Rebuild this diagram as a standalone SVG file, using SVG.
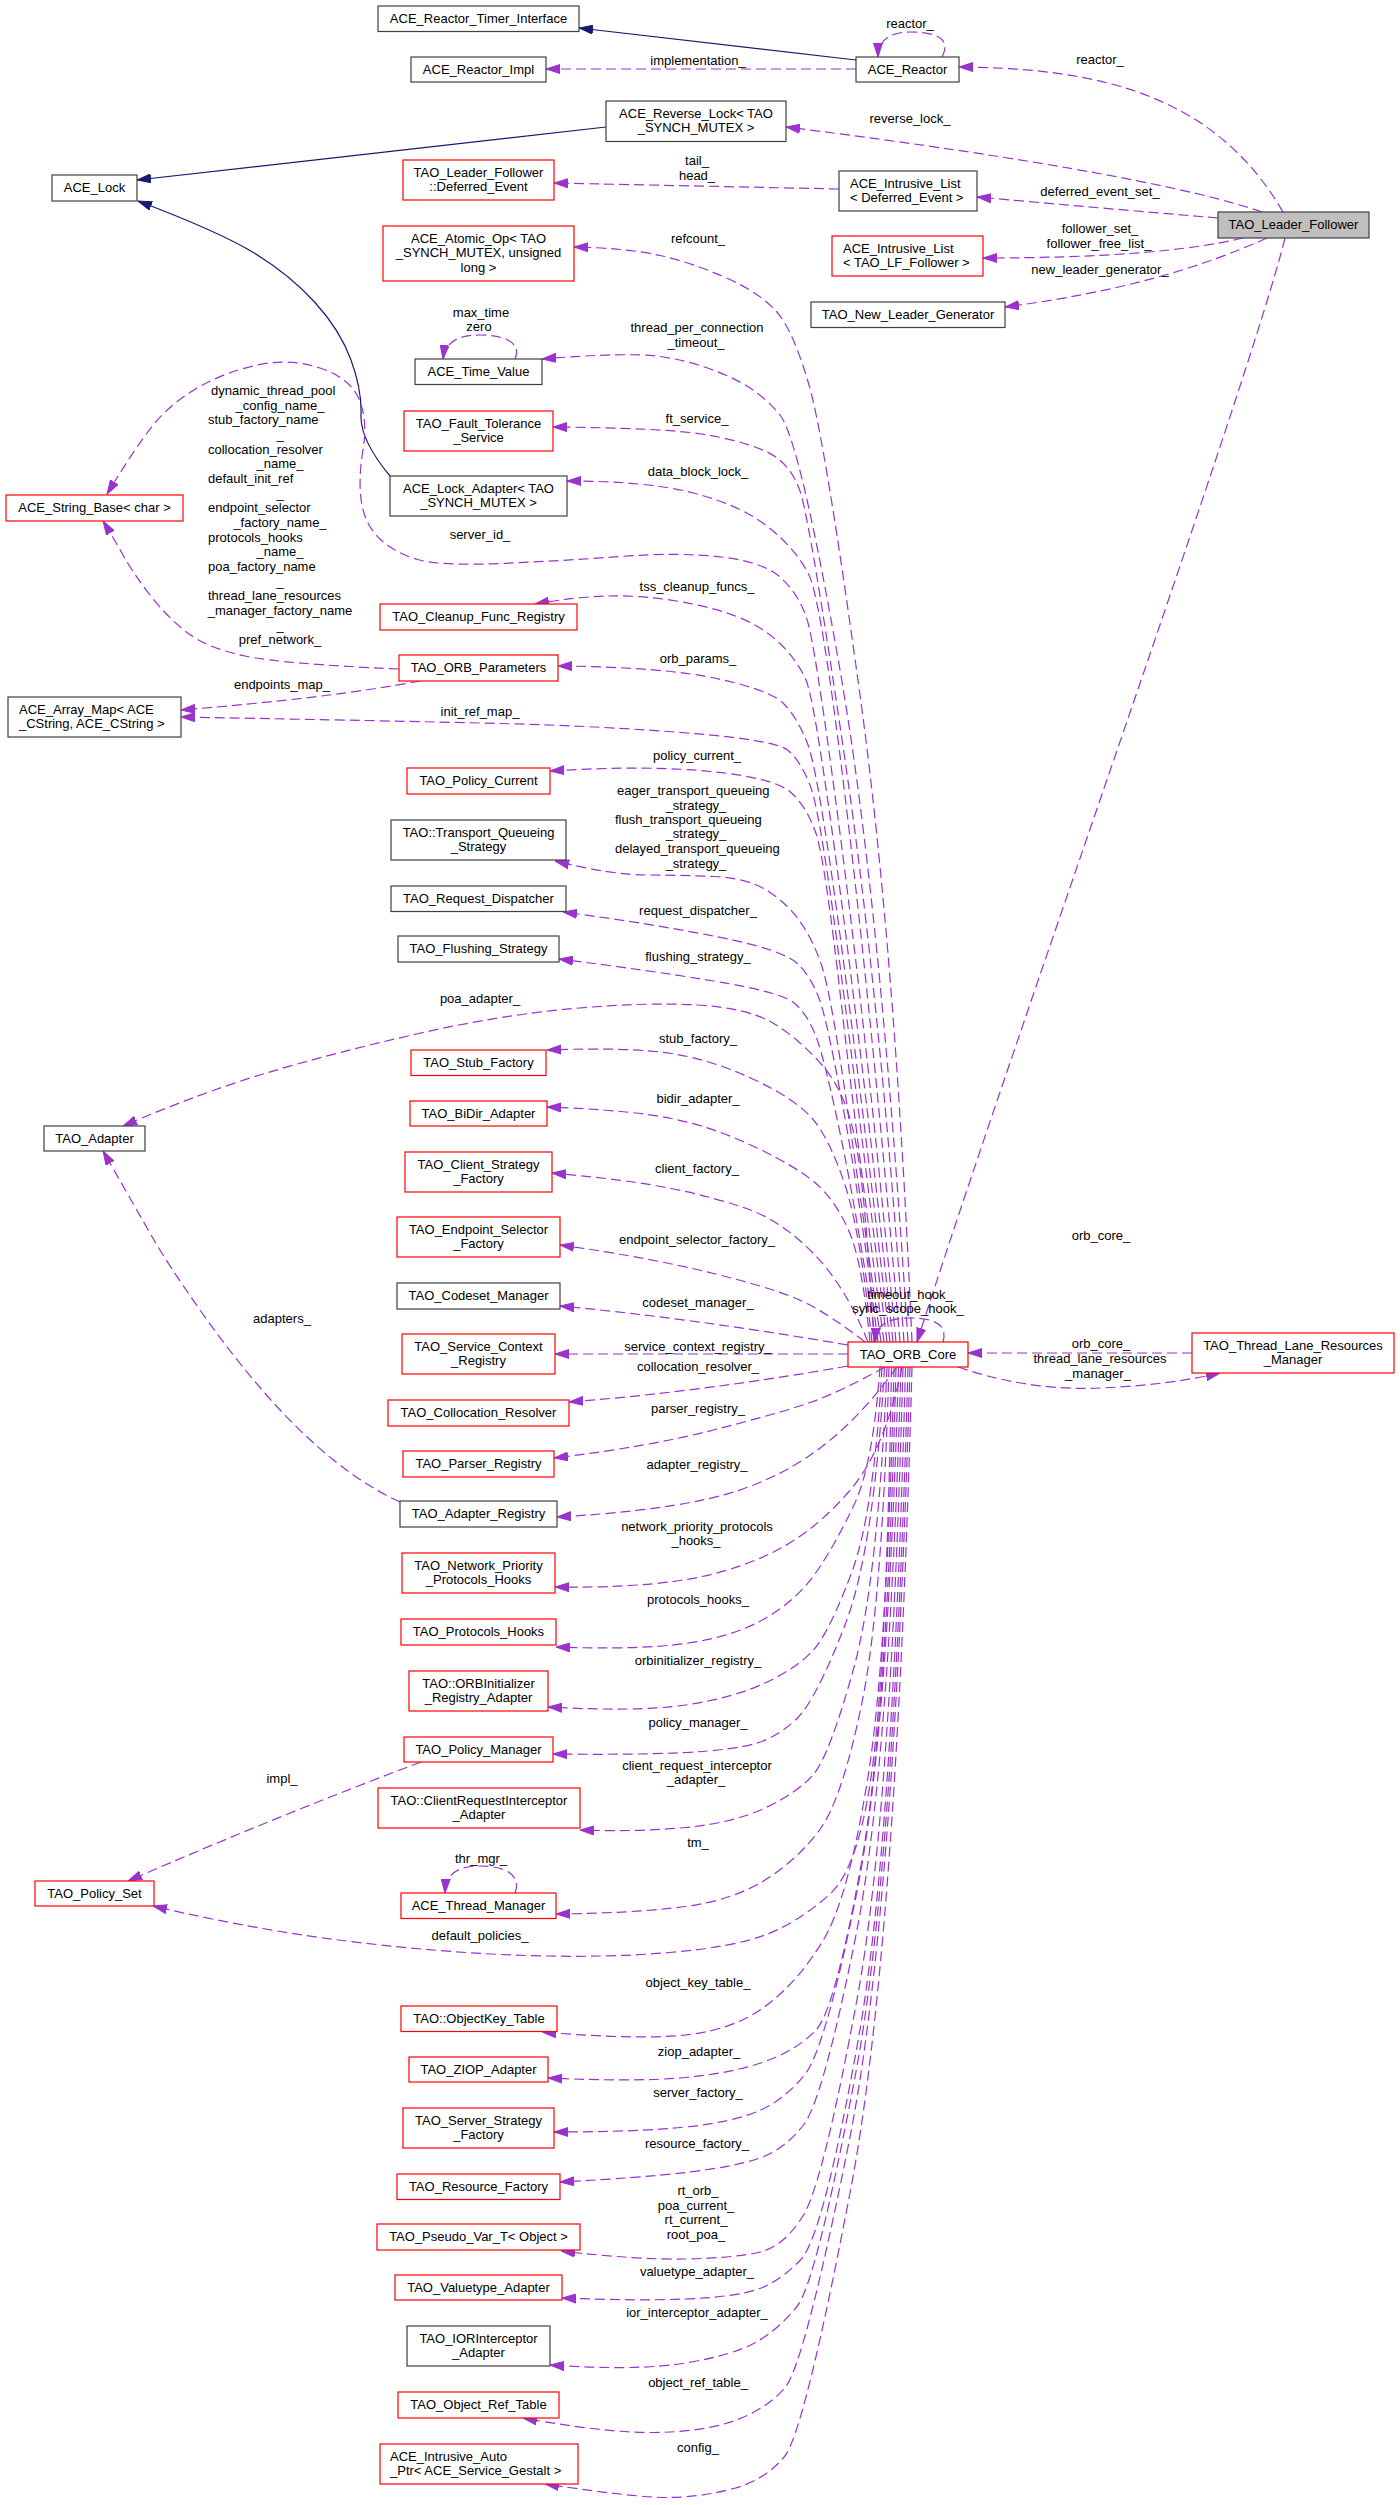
<svg xmlns="http://www.w3.org/2000/svg" width="1400" height="2505" viewBox="0 0 1400 2505">
<style>
text{font-family:"Liberation Sans",Arial,Helvetica,sans-serif;font-size:13px;fill:#000}
.n rect{stroke-width:1.2}
.r{fill:#fff;stroke:#ff0000}
.b{fill:#fff;stroke:#404040}
.g{fill:#bfbfbf;stroke:#404040}
.c{text-anchor:middle}
.e{fill:none;stroke:#9a32cd;stroke-width:1.2;stroke-dasharray:10,5;marker-end:url(#ap)}
.i{fill:none;stroke:#191970;stroke-width:1.2;marker-end:url(#an)}
</style>
<defs>
<marker id="ap" viewBox="0 0 14 10" refX="14" refY="5" markerWidth="14" markerHeight="10" markerUnits="userSpaceOnUse" orient="auto"><path d="M0,0.5 L14,5 L0,9.5 z" fill="#9a32cd" stroke="#9a32cd" stroke-width="1"/></marker>
<marker id="an" viewBox="0 0 14 10" refX="14" refY="5" markerWidth="14" markerHeight="10" markerUnits="userSpaceOnUse" orient="auto"><path d="M0,0.5 L14,5 L0,9.5 z" fill="#191970" stroke="#191970" stroke-width="1"/></marker>
</defs>
<rect x="0" y="0" width="1400" height="2505" fill="#fff"/>
<g id="edges">
<path class="i" d="M856,60 L579,28"/>
<path class="i" d="M606,127 L137,180"/>
<path class="i" d="M390,476 Q360,440 361,415 Q362,390 351,360 Q340,330 315,302.5 Q290,275 255,253.5 Q220,232 138,201"/>
<path class="e" d="M856,69 L546,69"/>
<path class="e" d="M942,57 C952,38 935,32 910,32 C890,32 878,40 878,57"/>
<path class="e" d="M1283,212 C1215,95 1100,68 959,67"/>
<path class="e" d="M1262,212 C1200,190 1050,160 786,127"/>
<path class="e" d="M839,189 L554,183"/>
<path class="e" d="M1218,218 Q1100,208 977,197"/>
<path class="e" d="M1243,238 Q1160,258 983,258"/>
<path class="e" d="M1267,238 C1200,268 1120,292 1005,307"/>
<path class="e" d="M1285,238 C1250,380 1010,1050 917,1342"/>
<path class="e" d="M515,359 C522,343 505,335 480,335 C458,335 445,342 443,359"/>
<path class="e" d="M908,1342 Q880,900 840,670 Q800,440 780,415 Q760,390 726.5,375.5 Q693,361 660,356.5 Q627,352 542,359"/>
<path class="e" d="M912,1342 Q895,950 860,695 Q825,440 809,385 Q793,330 776.5,311.5 Q760,293 726.5,278 Q693,263 660,255.5 Q627,248 574,247"/>
<path class="e" d="M904,1342 Q880,1000 845,760 Q810,520 800,491 Q790,462 765,451 Q740,440 701.5,434 Q663,428 553,427"/>
<path class="e" d="M900,1342 Q875,1050 848.5,825 Q822,600 808.5,574 Q795,548 767.5,526.5 Q740,505 693.5,493 Q647,481 567,481"/>
<path class="e" d="M896,1342 Q868,1050 841.5,845 Q815,640 806,616 Q797,592 780,577 Q763,562 721.5,557 Q680,552 620,556.5 Q560,561 500,563.5 Q440,566 417.5,559.5 Q395,553 380,539 Q365,525 361.5,502.5 Q358,480 363,450 Q368,420 359,399 Q350,378 320,368 Q290,358 257.5,365 Q225,372 199,387 Q173,402 156.5,421 Q140,440 107,494"/>
<path class="e" d="M893,1342 Q865,1080 840,890 Q815,700 806,680 Q797,660 780,643.5 Q763,627 738,617 Q713,607 676.5,601 Q640,595 607.5,596 Q575,597 535,604"/>
<path class="e" d="M890,1342 Q862,1100 840,935 Q818,770 807.5,743.5 Q797,717 783.5,703.5 Q770,690 716.5,678.5 Q663,667 558,666"/>
<path class="e" d="M887,1342 Q860,1120 840,965 Q820,810 810,785 Q800,760 787.5,750 Q775,740 687.5,733 Q600,726 500,723.5 Q400,721 181,717"/>
<path class="e" d="M884,1342 Q858,1150 841.5,1005 Q825,860 816,833.5 Q807,807 791,792.5 Q775,778 711,771.5 Q647,765 550,771"/>
<path class="e" d="M881,1342 Q858,1180 844,1085 Q830,990 821.5,965 Q813,940 800,921.5 Q787,903 767,890.5 Q747,878 713.5,876.5 Q680,875 646.5,875 Q613,875 555,861"/>
<path class="e" d="M878,1342 Q860,1200 844,1112.5 Q828,1025 820.5,1002.5 Q813,980 799,965 Q785,950 716,936.5 Q647,923 563,912"/>
<path class="e" d="M876,1342 Q858,1220 841.5,1140 Q825,1060 816,1036.5 Q807,1013 793.5,1002.5 Q780,992 713.5,981 Q647,970 559,959"/>
<path class="e" d="M874,1342 Q866,1200 856.5,1146.5 Q847,1093 822,1065 Q797,1037 772,1022.5 Q747,1008 697,1005 Q647,1002 573.5,1008.5 Q500,1015 416.5,1034 Q333,1053 266.5,1073 Q200,1093 123,1126"/>
<path class="e" d="M872,1342 Q860,1230 845,1185 Q830,1140 813.5,1120 Q797,1100 755,1080 Q713,1060 671.5,1053.5 Q630,1047 547,1050"/>
<path class="e" d="M870,1342 Q862,1260 848.5,1230 Q835,1200 816,1183.5 Q797,1167 755,1147 Q713,1127 671.5,1118.5 Q630,1110 547,1107"/>
<path class="e" d="M868,1342 Q845,1285 812.5,1252.5 Q780,1220 746.5,1208.5 Q713,1197 671.5,1188.5 Q630,1180 552,1173"/>
<path class="e" d="M865,1342 Q830,1315 805,1302.5 Q780,1290 713.5,1273.5 Q647,1257 560,1245"/>
<path class="e" d="M848,1345 Q690,1318 560,1306"/>
<path class="e" d="M848,1354 L555,1354"/>
<path class="e" d="M848,1366 Q700,1392 569,1402"/>
<path class="e" d="M885,1367 Q840,1392 810,1402.5 Q780,1413 713.5,1430 Q647,1447 554,1458"/>
<path class="e" d="M897,1367 Q855,1425 809,1456 Q763,1487 705,1499.5 Q647,1512 557,1517"/>
<path class="e" d="M902,1367 Q885,1450 849,1491.5 Q813,1533 771.5,1553 Q730,1573 680,1580.5 Q630,1588 555,1587"/>
<path class="e" d="M880,1367 Q873,1465 854,1505 Q835,1545 816,1572.5 Q797,1600 765,1618.5 Q733,1637 685.5,1643.5 Q638,1650 556,1647"/>
<path class="e" d="M882,1367 Q874,1513 851.5,1573 Q829,1633 813,1650.5 Q797,1668 765,1683 Q733,1698 685.5,1705 Q638,1712 548,1707"/>
<path class="e" d="M884.5,1367 Q874,1550 845,1625 Q816,1700 797,1718.5 Q778,1737 755.5,1743.5 Q733,1750 685.5,1752.5 Q638,1755 553,1754"/>
<path class="e" d="M887,1367 Q878,1581 853.5,1669 Q829,1757 813,1775 Q797,1793 765,1808 Q733,1823 685.5,1827.5 Q638,1832 580,1830"/>
<path class="e" d="M889,1367 Q882,1605 862,1702.5 Q842,1800 819.5,1830 Q797,1860 765,1880 Q733,1900 685.5,1906.5 Q638,1913 556,1914"/>
<path class="e" d="M891.5,1367 Q887,1642 874,1754.5 Q861,1867 829,1895 Q797,1923 765,1935 Q733,1947 669.5,1952.5 Q606,1958 526,1955.5 Q446,1953 350.5,1941.5 Q255,1930 153,1906"/>
<path class="e" d="M894,1367 Q887,1660 867.5,1780 Q848,1900 822.5,1941.5 Q797,1983 765,2006.5 Q733,2030 685.5,2035 Q638,2040 542,2032"/>
<path class="e" d="M896,1367 Q887,1721 861,1865.5 Q835,2010 816,2030 Q797,2050 765,2061.5 Q733,2073 685.5,2077.5 Q638,2082 548,2078"/>
<path class="e" d="M898.5,1367 Q887.5,1743 856,1896.5 Q825,2050 804.5,2075 Q784,2100 758.5,2111 Q733,2122 685.5,2127 Q638,2132 554,2132"/>
<path class="e" d="M901,1367 Q889,1770 856,1935 Q823,2100 803.5,2125 Q784,2150 758.5,2158.5 Q733,2167 685.5,2172.5 Q638,2178 560,2182"/>
<path class="e" d="M903,1367 Q891,1816 857,1999.5 Q823,2183 803.5,2215 Q784,2247 758.5,2252.5 Q733,2258 685.5,2259 Q638,2260 561,2251"/>
<path class="e" d="M905.5,1367 Q893,1845.5 858,2041 Q823,2237 800.5,2260 Q778,2283 755.5,2290 Q733,2297 685.5,2299 Q638,2301 562,2298"/>
<path class="e" d="M908,1367 Q894,1871 855,2077 Q816,2283 797,2306.5 Q778,2330 755.5,2342.5 Q733,2355 685.5,2363 Q638,2371 550,2365"/>
<path class="e" d="M910,1367 Q894,1917 849,2142 Q804,2367 784.5,2388.5 Q765,2410 733.5,2421 Q702,2432 654,2432.5 Q606,2433 523,2418"/>
<path class="e" d="M912,1367 Q896,1953 850,2193 Q804,2433 784.5,2456.5 Q765,2480 733.5,2488.5 Q702,2497 670,2497.5 Q638,2498 545,2484"/>
<path class="e" d="M399,669 Q283,664 245,656 Q207,648 187,632.5 Q167,617 150,595 Q133,573 123,555 Q113,537 103,521"/>
<path class="e" d="M420,681 Q330,698 181,710"/>
<path class="e" d="M400,1502 Q367,1487 333.5,1460 Q300,1433 266.5,1395 Q233,1357 200,1310 Q167,1263 152.5,1237.5 Q138,1212 103,1151"/>
<path class="e" d="M421,1762 Q280,1815 128,1881"/>
<path class="e" d="M515,1893 C522,1875 505,1866 480,1866 C460,1866 446,1872 445,1893"/>
<path class="e" d="M943,1342 C948,1325 935,1318 910,1318 C888,1318 876,1324 875,1342"/>
<path class="e" d="M1192,1353 L968,1353"/>
<path class="e" d="M958,1367 C1010,1385 1060,1390 1100,1388 C1150,1386 1190,1380 1220,1373"/>
</g>
<g id="edge-labels">
<text class="c" x="698" y="65">implementation_</text>
<text class="c" x="910" y="28">reactor_</text>
<text class="c" x="1100" y="64">reactor_</text>
<text class="c" x="910" y="123">reverse_lock_</text>
<text class="c" x="697" y="165">tail_</text>
<text class="c" x="697" y="180">head_</text>
<text class="c" x="1100" y="196">deferred_event_set_</text>
<text class="c" x="1100" y="232.5">follower_set_</text>
<text class="c" x="1099" y="247.5">follower_free_list_</text>
<text class="c" x="1100" y="274">new_leader_generator_</text>
<text class="c" x="698" y="243">refcount_</text>
<text class="c" x="481" y="317">max_time</text>
<text class="c" x="479" y="331">zero</text>
<text class="c" x="697" y="332">thread_per_connection</text>
<text class="c" x="696" y="347">_timeout_</text>
<text x="211" y="395">dynamic_thread_pool</text>
<text class="c" x="280" y="409.7">_config_name_</text>
<text x="208" y="424.3">stub_factory_name</text>
<text class="c" x="280" y="439">_</text>
<text x="208" y="453.7">collocation_resolver</text>
<text class="c" x="280" y="468.3">_name_</text>
<text x="208" y="483">default_init_ref</text>
<text class="c" x="280" y="497.7">_</text>
<text x="208" y="512.3">endpoint_selector</text>
<text class="c" x="280" y="527">_factory_name_</text>
<text x="208" y="541.7">protocols_hooks</text>
<text class="c" x="280" y="556.3">_name_</text>
<text x="208" y="571">poa_factory_name</text>
<text class="c" x="280" y="585.7">_</text>
<text x="208" y="600.3">thread_lane_resources</text>
<text class="c" x="280" y="615">_manager_factory_name</text>
<text class="c" x="280" y="629.7">_</text>
<text class="c" x="280" y="644.3">pref_network_</text>
<text class="c" x="697" y="423">ft_service_</text>
<text class="c" x="698" y="476">data_block_lock_</text>
<text class="c" x="480" y="539">server_id_</text>
<text class="c" x="697" y="591">tss_cleanup_funcs_</text>
<text class="c" x="698" y="663">orb_params_</text>
<text class="c" x="282" y="689">endpoints_map_</text>
<text class="c" x="480" y="716">init_ref_map_</text>
<text class="c" x="697" y="760">policy_current_</text>
<text x="617" y="795">eager_transport_queueing</text>
<text class="c" x="696" y="809.5">_strategy_</text>
<text x="615" y="823.5">flush_transport_queueing</text>
<text class="c" x="696" y="838">_strategy_</text>
<text x="615" y="853">delayed_transport_queueing</text>
<text class="c" x="696" y="867.5">_strategy_</text>
<text class="c" x="698" y="915">request_dispatcher_</text>
<text class="c" x="698" y="961">flushing_strategy_</text>
<text class="c" x="480" y="1003">poa_adapter_</text>
<text class="c" x="698" y="1043">stub_factory_</text>
<text class="c" x="698" y="1103">bidir_adapter_</text>
<text class="c" x="697" y="1173">client_factory_</text>
<text class="c" x="697" y="1244">endpoint_selector_factory_</text>
<text class="c" x="1101" y="1240">orb_core_</text>
<text class="c" x="910" y="1299">timeout_hook_</text>
<text class="c" x="908" y="1313">sync_scope_hook_</text>
<text class="c" x="698" y="1307">codeset_manager_</text>
<text class="c" x="282" y="1323">adapters_</text>
<text class="c" x="1101" y="1348">orb_core_</text>
<text class="c" x="1100" y="1363">thread_lane_resources</text>
<text class="c" x="1098" y="1378">_manager_</text>
<text class="c" x="698" y="1351">service_context_registry_</text>
<text class="c" x="698" y="1371">collocation_resolver_</text>
<text class="c" x="698" y="1413">parser_registry_</text>
<text class="c" x="697" y="1469">adapter_registry_</text>
<text class="c" x="697" y="1531">network_priority_protocols</text>
<text class="c" x="696" y="1545">_hooks_</text>
<text class="c" x="698" y="1604">protocols_hooks_</text>
<text class="c" x="698" y="1665">orbinitializer_registry_</text>
<text class="c" x="698" y="1727">policy_manager_</text>
<text class="c" x="697" y="1770">client_request_interceptor</text>
<text class="c" x="696" y="1784">_adapter_</text>
<text class="c" x="282" y="1783">impl_</text>
<text class="c" x="698" y="1847">tm_</text>
<text class="c" x="481" y="1863">thr_mgr_</text>
<text class="c" x="480" y="1940">default_policies_</text>
<text class="c" x="698" y="1987">object_key_table_</text>
<text class="c" x="699" y="2056">ziop_adapter_</text>
<text class="c" x="698" y="2097">server_factory_</text>
<text class="c" x="697" y="2148">resource_factory_</text>
<text class="c" x="698" y="2195">rt_orb_</text>
<text class="c" x="696" y="2209.5">poa_current_</text>
<text class="c" x="696" y="2224">rt_current_</text>
<text class="c" x="696" y="2239">root_poa_</text>
<text class="c" x="697" y="2276">valuetype_adapter_</text>
<text class="c" x="697" y="2317">ior_interceptor_adapter_</text>
<text class="c" x="698" y="2387">object_ref_table_</text>
<text class="c" x="698" y="2452">config_</text>
</g>
<g id="n1" class="n"><rect class="b" x="378" y="6" width="201" height="25.5"/><text class="c" x="478.5" y="22.7">ACE_Reactor_Timer_Interface</text></g>
<g id="n2" class="n"><rect class="b" x="411" y="57" width="135" height="25"/><text class="c" x="478.5" y="73.7">ACE_Reactor_Impl</text></g>
<g id="n3" class="n"><rect class="b" x="856" y="57" width="103" height="25"/><text class="c" x="907.5" y="73.7">ACE_Reactor</text></g>
<g id="n4" class="n"><rect class="b" x="52" y="175" width="85" height="26"/><text class="c" x="94.5" y="191.7">ACE_Lock</text></g>
<g id="n5" class="n"><rect class="b" x="606" y="101" width="180" height="40.5"/><text class="c" x="696" y="117.7">ACE_Reverse_Lock&lt; TAO</text><text class="c" x="696" y="132.4">_SYNCH_MUTEX &gt;</text></g>
<g id="n6" class="n"><rect class="r" x="403" y="160" width="151" height="40"/><text class="c" x="478.5" y="176.7">TAO_Leader_Follower</text><text class="c" x="478.5" y="191.4">::Deferred_Event</text></g>
<g id="n7" class="n"><rect class="b" x="839" y="171" width="138" height="40"/><text x="850" y="187.7">ACE_Intrusive_List</text><text x="850" y="202.4">&lt; Deferred_Event &gt;</text></g>
<g id="n8" class="n"><rect class="g" x="1218" y="212" width="151" height="26"/><text class="c" x="1293.5" y="228.7">TAO_Leader_Follower</text></g>
<g id="n9" class="n"><rect class="r" x="383" y="226" width="191" height="55"/><text class="c" x="478.5" y="242.7">ACE_Atomic_Op&lt; TAO</text><text class="c" x="478.5" y="257.4">_SYNCH_MUTEX, unsigned</text><text class="c" x="478.5" y="272.1">long &gt;</text></g>
<g id="n10" class="n"><rect class="r" x="832" y="236" width="151" height="40"/><text x="843" y="252.7">ACE_Intrusive_List</text><text x="843" y="267.4">&lt; TAO_LF_Follower &gt;</text></g>
<g id="n11" class="n"><rect class="b" x="811" y="302" width="194" height="25.5"/><text class="c" x="908" y="318.7">TAO_New_Leader_Generator</text></g>
<g id="n12" class="n"><rect class="b" x="415" y="359" width="127" height="25.5"/><text class="c" x="478.5" y="375.7">ACE_Time_Value</text></g>
<g id="n13" class="n"><rect class="r" x="404" y="411" width="149" height="40"/><text class="c" x="478.5" y="427.7">TAO_Fault_Tolerance</text><text class="c" x="478.5" y="442.4">_Service</text></g>
<g id="n14" class="n"><rect class="b" x="390" y="476" width="177" height="40"/><text class="c" x="478.5" y="492.7">ACE_Lock_Adapter&lt; TAO</text><text class="c" x="478.5" y="507.4">_SYNCH_MUTEX &gt;</text></g>
<g id="n15" class="n"><rect class="r" x="6" y="495" width="177" height="26"/><text class="c" x="94.5" y="511.7">ACE_String_Base&lt; char &gt;</text></g>
<g id="n16" class="n"><rect class="r" x="380" y="604" width="197" height="26"/><text class="c" x="478.5" y="620.7">TAO_Cleanup_Func_Registry</text></g>
<g id="n17" class="n"><rect class="r" x="399" y="655" width="159" height="26"/><text class="c" x="478.5" y="671.7">TAO_ORB_Parameters</text></g>
<g id="n18" class="n"><rect class="b" x="8" y="697" width="173" height="40"/><text x="19" y="713.7">ACE_Array_Map&lt; ACE</text><text x="19" y="728.4">_CString, ACE_CString &gt;</text></g>
<g id="n19" class="n"><rect class="r" x="407" y="768" width="143" height="26"/><text class="c" x="478.5" y="784.7">TAO_Policy_Current</text></g>
<g id="n20" class="n"><rect class="b" x="391" y="820" width="175" height="40"/><text class="c" x="478.5" y="836.7">TAO::Transport_Queueing</text><text class="c" x="478.5" y="851.4">_Strategy</text></g>
<g id="n21" class="n"><rect class="b" x="391" y="886" width="175" height="25.5"/><text class="c" x="478.5" y="902.7">TAO_Request_Dispatcher</text></g>
<g id="n22" class="n"><rect class="b" x="398" y="936" width="161" height="26"/><text class="c" x="478.5" y="952.7">TAO_Flushing_Strategy</text></g>
<g id="n23" class="n"><rect class="r" x="411" y="1050" width="135" height="25.5"/><text class="c" x="478.5" y="1066.7">TAO_Stub_Factory</text></g>
<g id="n24" class="n"><rect class="r" x="410" y="1101" width="137" height="25"/><text class="c" x="478.5" y="1117.7">TAO_BiDir_Adapter</text></g>
<g id="n25" class="n"><rect class="b" x="44" y="1126" width="101" height="25"/><text class="c" x="94.5" y="1142.7">TAO_Adapter</text></g>
<g id="n26" class="n"><rect class="r" x="405" y="1152" width="147" height="40"/><text class="c" x="478.5" y="1168.7">TAO_Client_Strategy</text><text class="c" x="478.5" y="1183.4">_Factory</text></g>
<g id="n27" class="n"><rect class="r" x="397" y="1217" width="163" height="40"/><text class="c" x="478.5" y="1233.7">TAO_Endpoint_Selector</text><text class="c" x="478.5" y="1248.4">_Factory</text></g>
<g id="n28" class="n"><rect class="b" x="397" y="1283" width="163" height="26"/><text class="c" x="478.5" y="1299.7">TAO_Codeset_Manager</text></g>
<g id="n29" class="n"><rect class="r" x="402" y="1334" width="153" height="40"/><text class="c" x="478.5" y="1350.7">TAO_Service_Context</text><text class="c" x="478.5" y="1365.4">_Registry</text></g>
<g id="n30" class="n"><rect class="r" x="848" y="1342" width="120" height="25"/><text class="c" x="908" y="1358.7">TAO_ORB_Core</text></g>
<g id="n31" class="n"><rect class="r" x="1192" y="1333" width="202" height="40"/><text class="c" x="1293" y="1349.7">TAO_Thread_Lane_Resources</text><text class="c" x="1293" y="1364.4">_Manager</text></g>
<g id="n32" class="n"><rect class="r" x="388" y="1400" width="181" height="26"/><text class="c" x="478.5" y="1416.7">TAO_Collocation_Resolver</text></g>
<g id="n33" class="n"><rect class="r" x="403" y="1451" width="151" height="26"/><text class="c" x="478.5" y="1467.7">TAO_Parser_Registry</text></g>
<g id="n34" class="n"><rect class="b" x="400" y="1501" width="157" height="26"/><text class="c" x="478.5" y="1517.7">TAO_Adapter_Registry</text></g>
<g id="n35" class="n"><rect class="r" x="402" y="1553" width="153" height="40"/><text class="c" x="478.5" y="1569.7">TAO_Network_Priority</text><text class="c" x="478.5" y="1584.4">_Protocols_Hooks</text></g>
<g id="n36" class="n"><rect class="r" x="401" y="1619" width="155" height="26"/><text class="c" x="478.5" y="1635.7">TAO_Protocols_Hooks</text></g>
<g id="n37" class="n"><rect class="r" x="409" y="1671" width="139" height="40"/><text class="c" x="478.5" y="1687.7">TAO::ORBInitializer</text><text class="c" x="478.5" y="1702.4">_Registry_Adapter</text></g>
<g id="n38" class="n"><rect class="r" x="404" y="1737" width="149" height="25"/><text class="c" x="478.5" y="1753.7">TAO_Policy_Manager</text></g>
<g id="n39" class="n"><rect class="r" x="378" y="1788" width="202" height="40"/><text class="c" x="479" y="1804.7">TAO::ClientRequestInterceptor</text><text class="c" x="479" y="1819.4">_Adapter</text></g>
<g id="n40" class="n"><rect class="r" x="35" y="1881" width="119" height="25"/><text class="c" x="94.5" y="1897.7">TAO_Policy_Set</text></g>
<g id="n41" class="n"><rect class="r" x="401" y="1893" width="155" height="25.5"/><text class="c" x="478.5" y="1909.7">ACE_Thread_Manager</text></g>
<g id="n42" class="n"><rect class="r" x="401" y="2006" width="156" height="25.5"/><text class="c" x="479" y="2022.7">TAO::ObjectKey_Table</text></g>
<g id="n43" class="n"><rect class="r" x="409" y="2057" width="139" height="25"/><text class="c" x="478.5" y="2073.7">TAO_ZIOP_Adapter</text></g>
<g id="n44" class="n"><rect class="r" x="403" y="2108" width="151" height="40"/><text class="c" x="478.5" y="2124.7">TAO_Server_Strategy</text><text class="c" x="478.5" y="2139.4">_Factory</text></g>
<g id="n45" class="n"><rect class="r" x="397" y="2174" width="163" height="25.5"/><text class="c" x="478.5" y="2190.7">TAO_Resource_Factory</text></g>
<g id="n46" class="n"><rect class="r" x="377" y="2224" width="203" height="26"/><text class="c" x="478.5" y="2240.7">TAO_Pseudo_Var_T&lt; Object &gt;</text></g>
<g id="n47" class="n"><rect class="r" x="395" y="2275" width="167" height="25"/><text class="c" x="478.5" y="2291.7">TAO_Valuetype_Adapter</text></g>
<g id="n48" class="n"><rect class="b" x="407" y="2326" width="143" height="40"/><text class="c" x="478.5" y="2342.7">TAO_IORInterceptor</text><text class="c" x="478.5" y="2357.4">_Adapter</text></g>
<g id="n49" class="n"><rect class="r" x="398" y="2392" width="161" height="26"/><text class="c" x="478.5" y="2408.7">TAO_Object_Ref_Table</text></g>
<g id="n50" class="n"><rect class="r" x="380" y="2444" width="198" height="40"/><text x="390" y="2460.7">ACE_Intrusive_Auto</text><text x="390" y="2475.4">_Ptr&lt; ACE_Service_Gestalt &gt;</text></g>
</svg>
